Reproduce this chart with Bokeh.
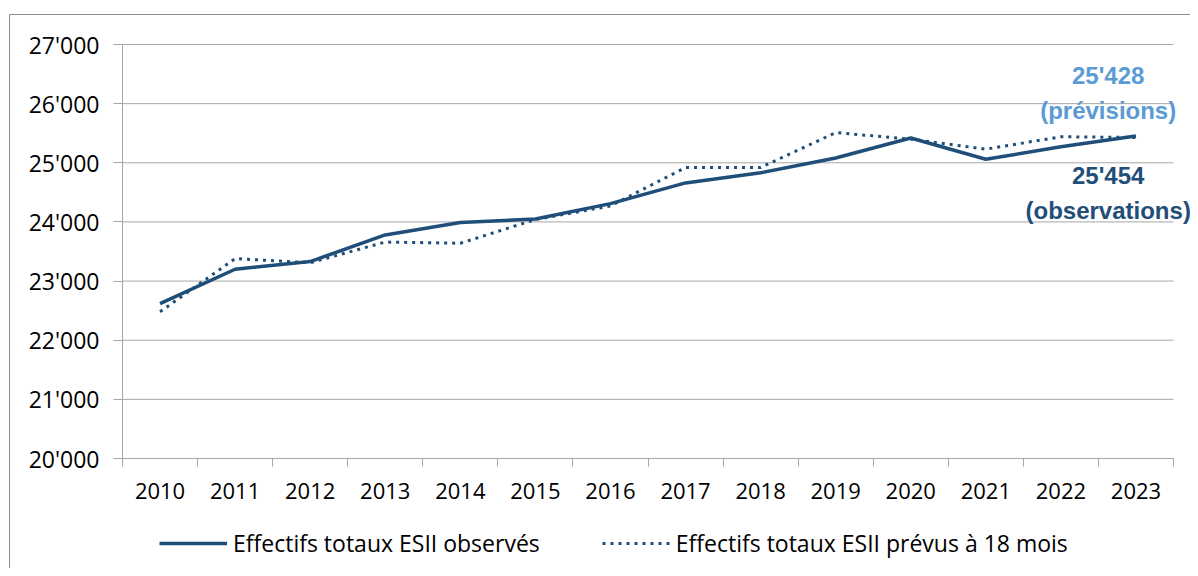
from bokeh.plotting import figure
from bokeh.models import FixedTicker, Legend, LegendItem, Range1d
from bokeh.core.properties import value
from bokeh.embed import file_html
from bokeh.resources import INLINE

years = ["2010", "2011", "2012", "2013", "2014", "2015", "2016",
         "2017", "2018", "2019", "2020", "2021", "2022", "2023"]
observed = [22620, 23200, 23330, 23780, 23990, 24050, 24310,
            24660, 24830, 25080, 25420, 25060, 25270, 25454]
forecast = [22480, 23380, 23310, 23660, 23640, 24040, 24270,
            24920, 24920, 25510, 25400, 25230, 25440, 25428]
y_ticks = [20000, 21000, 22000, 23000, 24000, 25000, 26000, 27000]
y_tick_labels = ["20'000", "21'000", "22'000", "23'000", "24'000", "25'000", "26'000", "27'000"]
label_obs = "Effectifs totaux ESII observés"
label_prev = "Effectifs totaux ESII prévus à 18 mois"
annot_prev = ["25'428", "(prévisions)"]
annot_obs = ["25'454", "(observations)"]
annot_prev_y = [26476, 25884]
annot_obs_y = [24785, 24193]

FONT = "Open Sans"
DARK = "#1F4E79"
LIGHT = "#5B9BD5"
GRID = "#A6A6A6"
BORDER = "#8C8C8C"

n = len(years)
xs = list(range(n))
x_lo, x_hi = -0.5, n - 0.5
y_lo, y_hi = y_ticks[0], y_ticks[-1]

# layout (pixels inside the figure)
W, H = 1190, 568
PLOT_L, PLOT_R = 122, 1173      # category span on screen
PLOT_T, PLOT_B = 44, 458        # value span on screen
px_x = (PLOT_R - PLOT_L) / (x_hi - x_lo)
px_y = (PLOT_B - PLOT_T) / (y_hi - y_lo)
x_start = x_lo - PLOT_L / px_x
x_end = x_hi + (W - PLOT_R) / px_x
y_end = y_hi + PLOT_T / px_y
y_start = y_lo - (H - PLOT_B) / px_y

p = figure(width=W, height=H, min_border=0,
           x_range=Range1d(x_start, x_end), y_range=Range1d(y_start, y_end),
           output_backend="svg", toolbar_location=None)
p.outline_line_color = None
p.background_fill_color = "white"
p.border_fill_color = "white"
p.xgrid.grid_line_color = None
p.ygrid.grid_line_color = None

# chart-area border (left and top edges visible)
bx = x_start + 9 / px_x
by = y_end - 14 / px_y
p.segment(x0=[bx, bx], y0=[by, by], x1=[x_end, bx], y1=[by, y_start],
          line_color=BORDER, line_width=1)

# horizontal gridlines across the category span
p.segment(x0=[x_lo] * len(y_ticks), x1=[x_hi] * len(y_ticks), y0=y_ticks, y1=y_ticks,
          line_color=GRID, line_width=1)

# x axis fixed at the bottom value: labels at category centers, ticks at boundaries
p.xaxis.fixed_location = y_lo
p.xaxis.bounds = (x_lo, x_hi)
p.xaxis.ticker = FixedTicker(ticks=xs, minor_ticks=[i - 0.5 for i in range(n + 1)])
p.xaxis.major_label_overrides = {i: y for i, y in enumerate(years)}
p.xaxis.major_tick_out = 0
p.xaxis.major_tick_in = 0
p.xaxis.minor_tick_out = 8
p.xaxis.minor_tick_in = 0
p.xaxis.minor_tick_line_color = GRID
p.xaxis.axis_line_color = GRID
p.xaxis.major_label_standoff = 16
p.xaxis.major_label_text_font = FONT
p.xaxis.major_label_text_font_size = "22px"
p.xaxis.major_label_text_color = "#000000"

# y axis fixed at the left category boundary
p.yaxis.fixed_location = x_lo
p.yaxis.bounds = (y_lo, y_hi)
p.yaxis.ticker = FixedTicker(ticks=y_ticks, minor_ticks=[])
p.yaxis.major_label_overrides = {t: l for t, l in zip(y_ticks, y_tick_labels)}
p.yaxis.major_tick_out = 9
p.yaxis.major_tick_in = 0
p.yaxis.major_tick_line_color = GRID
p.yaxis.axis_line_color = GRID
p.yaxis.major_label_standoff = 14
p.yaxis.major_label_text_font = FONT
p.yaxis.major_label_text_font_size = "23px"
p.yaxis.major_label_text_color = "#000000"

r_obs = p.line(xs, observed, line_color=DARK, line_width=3.5, line_join="round")
r_prev = p.line(xs, forecast, line_color=DARK, line_width=3, line_dash="3 5")

# annotations on the right
ax = n - 1 - 0.37
p.text([ax] * 2, annot_prev_y, text=annot_prev, text_color=LIGHT,
       text_font=value("Liberation Sans"), text_font_style="bold",
       text_font_size="24px", text_align="center", text_baseline="middle")
p.text([ax] * 2, annot_obs_y, text=annot_obs, text_color=DARK,
       text_font=value("Liberation Sans"), text_font_style="bold",
       text_font_size="24px", text_align="center", text_baseline="middle")

legend = Legend(items=[LegendItem(label=label_obs, renderers=[r_obs]),
                       LegendItem(label=label_prev, renderers=[r_prev])],
                orientation="horizontal", location=(159, H - 559),
                glyph_width=68, glyph_height=24, label_standoff=6, spacing=62,
                padding=0, margin=0, border_line_color=None, background_fill_alpha=0,
                label_text_font=FONT, label_text_font_size="23px", label_text_color="#000000",
                label_height=24)
p.add_layout(legend, "center")

open("out.html", "w").write(file_html(p, INLINE))
